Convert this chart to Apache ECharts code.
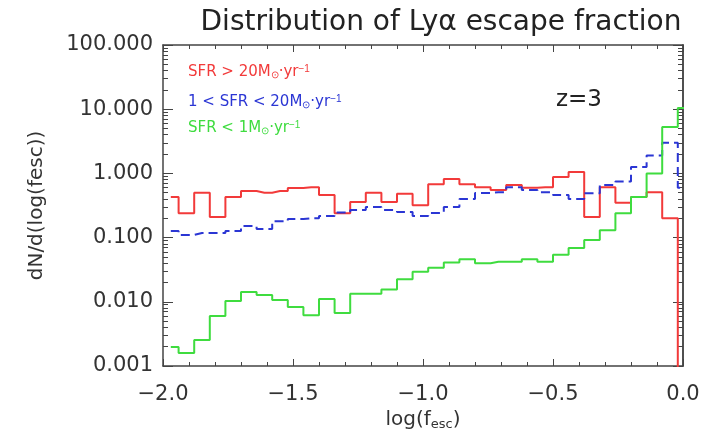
<!DOCTYPE html>
<html><head><meta charset="utf-8">
<script src="https://cdn.jsdelivr.net/npm/echarts@6/dist/echarts.min.js"></script>
<style>html,body{margin:0;padding:0;background:#fff}#c{width:716px;height:430px}</style>
</head><body><div id="c"></div>
<script>
// bin centres of log(f_esc) (drawn as IDL-style histogram steps)
const binCenters = [-1.97,-1.91,-1.85,-1.79,-1.73,-1.67,-1.61,-1.55,-1.49,-1.43,-1.37,-1.31,-1.25,-1.19,-1.13,-1.07,-1.01,-0.95,-0.89,-0.83,-0.77,-0.71,-0.65,-0.59,-0.53,-0.47,-0.41,-0.35,-0.29,-0.23,-0.17,-0.11,-0.05,0.01];
// SFR > 20 Msun/yr
const redVals = [0.43,0.24,0.50,0.21,0.43,0.53,0.50,0.53,0.59,0.61,0.46,0.24,0.36,0.50,0.36,0.48,0.32,0.68,0.82,0.68,0.61,0.55,0.66,0.60,0.61,0.88,1.05,0.21,0.61,0.35,0.43,0.51,0.20,0.000001];
// 1 < SFR < 20 Msun/yr
const blueVals = [0.127,0.110,0.118,0.118,0.127,0.152,0.136,0.18,0.195,0.20,0.217,0.245,0.269,0.30,0.27,0.25,0.217,0.242,0.30,0.40,0.495,0.51,0.61,0.55,0.51,0.46,0.40,0.49,0.66,0.75,1.26,1.9,3.0,0.6];
// SFR < 1 Msun/yr
const greenVals = [0.00198,0.00159,0.00254,0.0060,0.0103,0.0142,0.0128,0.0107,0.0083,0.0062,0.0111,0.0067,0.0133,0.0133,0.0155,0.0225,0.0295,0.034,0.041,0.046,0.040,0.042,0.042,0.046,0.042,0.054,0.069,0.092,0.13,0.24,0.43,1.0,5.3,10.4];
const yMajorTicks = [0.001,0.01,0.1,1,10,100];
const titleText = 'Distribution of Ly\u03b1 escape fraction';

const RED = '#f23a3a', BLUE = '#2b36d4', GREEN = '#3fdc3f';
const AX = '#444';
const FONT = 'DejaVu Sans';

// tick positions in log10 space (for the tick-only helper axes)
const logMajor = yMajorTicks.map(v => Math.log10(v));
const logMinor = [];
yMajorTicks.slice(0, -1).forEach(d => { for (let m = 2; m <= 9; m++) logMinor.push(Math.log10(d * m)); });

function xAx(pos, showLabel) {
  return {
    type: 'value', min: -2, max: 0, interval: 0.5, position: pos,
    axisLine: { show: true, onZero: false, lineStyle: { color: AX, width: 1.5 } },
    axisTick: { show: true, inside: true, length: 7, lineStyle: { color: AX, width: 1 } },
    minorTick: { show: true, splitNumber: 5, length: 4, lineStyle: { color: AX, width: 1 } },
    splitLine: { show: false },
    axisLabel: {
      show: showLabel, fontSize: 21, color: '#333', fontFamily: FONT, margin: 18,
      formatter: v => (v < 0 ? '\u2212' : '') + Math.abs(v).toFixed(1)
    },
    name: showLabel ? 'log(f{s|esc})' : '',
    nameLocation: 'middle', nameGap: 40,
    nameTextStyle: { fontSize: 20, color: '#333', fontFamily: FONT,
      rich: { s: { fontSize: 13, color: '#333', fontFamily: FONT, padding: [10, 0, 0, 0] } } }
  };
}
function tickAx(pos, vals, len) {
  return {
    type: 'value', min: -3, max: 2, interval: 1, position: pos,
    axisLine: { show: pos === 'right', onZero: false, lineStyle: { color: AX, width: 1.5 } },
    axisTick: { show: true, inside: true, length: len, customValues: vals, lineStyle: { color: AX, width: 1 } },
    axisLabel: { show: false }, splitLine: { show: false }
  };
}

function mk(vals) { return binCenters.map((x, i) => [x, vals[i]]); }

const chart = echarts.init(document.getElementById('c'));
chart.setOption({
  backgroundColor: '#fff',
  animation: false,
  title: {
    text: titleText, left: 436, top: 4, textAlign: 'center',
    textStyle: { fontSize: 28, fontWeight: 'normal', color: '#222', fontFamily: FONT }
  },
  grid: { left: 163, right: 33, top: 45, bottom: 64, outerBoundsMode: 'none', containLabel: false },
  xAxis: [xAx('bottom', true), xAx('top', false)],
  yAxis: [
    {
      type: 'log', logBase: 10, min: 0.001, max: 100, position: 'left',
      axisLine: { show: true, onZero: false, lineStyle: { color: AX, width: 1.5 } },
      axisTick: { show: false },
      splitLine: { show: false },
      axisLabel: {
        fontSize: 21, color: '#333', fontFamily: FONT, margin: 10,
        formatter: v => Number(v).toFixed(3)
      },
      name: 'dN/d(log(fesc))',
      nameLocation: 'middle', nameGap: 116,
      nameTextStyle: { fontSize: 20, color: '#333', fontFamily: FONT }
    },
    tickAx('left', logMajor, 10),
    tickAx('left', logMinor, 5),
    tickAx('right', logMajor, 10),
    tickAx('right', logMinor, 5)
  ],
  series: [
    { type: 'line', name: 'red', step: 'middle', data: mk(redVals), showSymbol: false, symbol: 'none',
      lineStyle: { color: RED, width: 2 }, clip: true },
    { type: 'line', name: 'blue', step: 'middle', data: mk(blueVals), showSymbol: false, symbol: 'none',
      lineStyle: { color: BLUE, width: 2, type: [9, 5] }, clip: true },
    { type: 'line', name: 'green', step: 'middle', data: mk(greenVals), showSymbol: false, symbol: 'none',
      lineStyle: { color: GREEN, width: 2 }, clip: true }
  ],
  graphic: [
    { type: 'text', left: 188, top: 64, style: { text: 'SFR > 20M{sub|\u2299}\u00b7yr{sup|\u22121}', fill: RED, font: '15px "DejaVu Sans"',
      rich: { sub: { fontSize: 10, fill: RED, verticalAlign: 'bottom', padding: [6, 0, 0, 0] }, sup: { fontSize: 10, fill: RED, verticalAlign: 'top', padding: [0, 0, 6, 0] } } } },
    { type: 'text', left: 188, top: 94, style: { text: '1 < SFR < 20M{sub|\u2299}\u00b7yr{sup|\u22121}', fill: BLUE, font: '15px "DejaVu Sans"',
      rich: { sub: { fontSize: 10, fill: BLUE, verticalAlign: 'bottom', padding: [6, 0, 0, 0] }, sup: { fontSize: 10, fill: BLUE, verticalAlign: 'top', padding: [0, 0, 6, 0] } } } },
    { type: 'text', left: 188, top: 120, style: { text: 'SFR < 1M{sub|\u2299}\u00b7yr{sup|\u22121}', fill: GREEN, font: '15px "DejaVu Sans"',
      rich: { sub: { fontSize: 10, fill: GREEN, verticalAlign: 'bottom', padding: [6, 0, 0, 0] }, sup: { fontSize: 10, fill: GREEN, verticalAlign: 'top', padding: [0, 0, 6, 0] } } } },
    { type: 'text', left: 556, top: 89, style: { text: 'z=3', fill: '#222', font: '23px "DejaVu Sans"' } }
  ]
});
</script></body></html>
